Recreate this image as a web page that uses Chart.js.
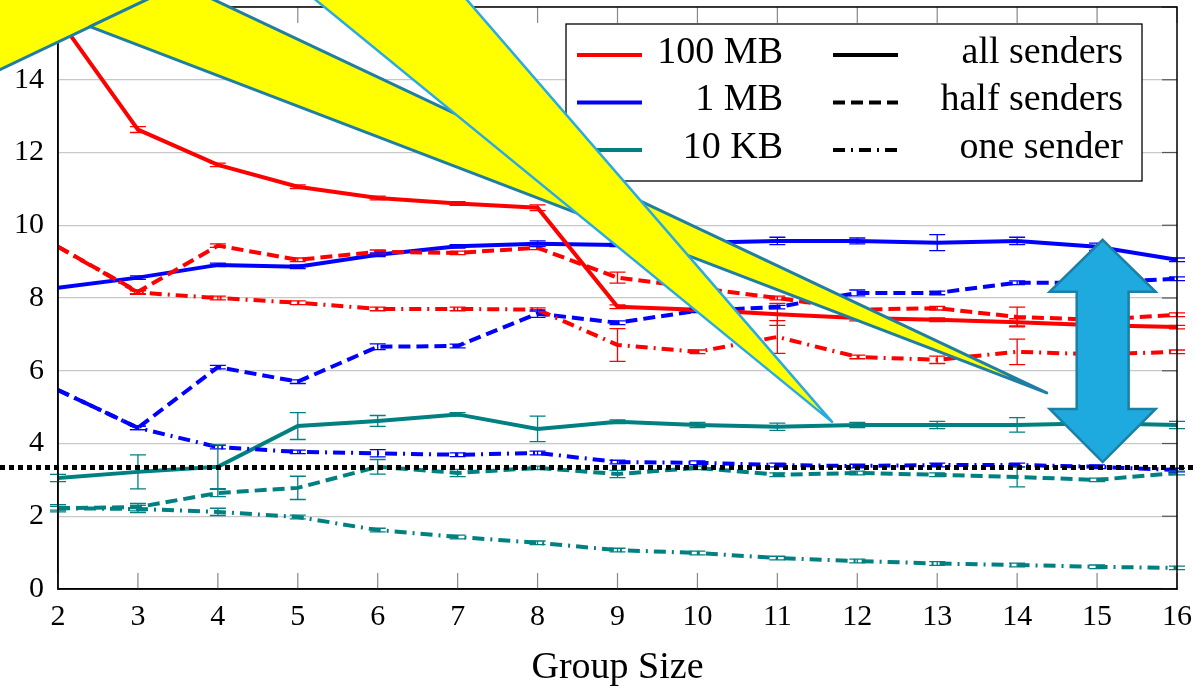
<!DOCTYPE html>
<html>
<head>
<meta charset="utf-8">
<script src="https://cdn.jsdelivr.net/npm/chart.js@4.4.1/dist/chart.umd.min.js"></script>
<style>
  html, body { margin: 0; padding: 0; background: #fff; }
</style>
</head>
<body>
<canvas id="chart" width="1196" height="691"></canvas>
<script>
// group sizes on the x axis
const groupSizes = [2, 3, 4, 5, 6, 7, 8, 9, 10, 11, 12, 13, 14, 15, 16];

// 100 MB
const redAll  = [15.7, 12.63, 11.66, 11.06, 10.75, 10.6, 10.48, 7.76, 7.68, 7.55, 7.45, 7.4, 7.33, 7.25, 7.2];
const redHalf = [9.41, 8.17, 9.44, 9.05, 9.27, 9.24, 9.38, 8.56, 8.28, 8.0, 7.68, 7.72, 7.48, 7.4, 7.54];
const redOne  = [9.41, 8.15, 8.0, 7.87, 7.7, 7.7, 7.68, 6.71, 6.52, 6.93, 6.38, 6.3, 6.52, 6.45, 6.52];
// 1 MB
const blueAll  = [8.28, 8.56, 8.91, 8.86, 9.19, 9.42, 9.49, 9.46, 9.52, 9.57, 9.57, 9.52, 9.57, 9.41, 9.05];
const blueHalf = [5.47, 4.43, 6.1, 5.7, 6.66, 6.68, 7.57, 7.32, 7.65, 7.75, 8.14, 8.14, 8.42, 8.42, 8.53];
const blueOne  = [5.47, 4.43, 3.9, 3.77, 3.73, 3.69, 3.74, 3.49, 3.47, 3.41, 3.38, 3.41, 3.41, 3.36, 3.27];
// 10 KB
const tealAll  = [3.05, 3.22, 3.36, 4.48, 4.62, 4.8, 4.4, 4.6, 4.51, 4.46, 4.51, 4.51, 4.51, 4.56, 4.51];
const tealHalf = [2.22, 2.25, 2.64, 2.78, 3.36, 3.19, 3.33, 3.16, 3.33, 3.14, 3.19, 3.14, 3.08, 3.0, 3.19];
const tealOne  = [2.22, 2.2, 2.12, 1.98, 1.62, 1.43, 1.27, 1.07, 0.99, 0.85, 0.77, 0.7, 0.66, 0.61, 0.58];

// error bar half widths
const redAllErr   = [0, 0.08, 0.05, 0.05, 0.05, 0.05, 0.08, 0.05, 0.05, 0.3, 0.08, 0.05, 0.1, 0.05, 0.05];
const redHalfErr  = [0, 0.05, 0.05, 0.05, 0.05, 0.05, 0.05, 0.15, 0.05, 0.05, 0.08, 0.05, 0.27, 0.05, 0.05];
const redOneErr   = [0, 0.05, 0.05, 0.05, 0.05, 0.05, 0.05, 0.45, 0.05, 0.45, 0.05, 0.1, 0.35, 0.05, 0.05];
const blueAllErr  = [0, 0.05, 0.05, 0.05, 0.05, 0.05, 0.08, 0.05, 0.05, 0.1, 0.08, 0.22, 0.1, 0.1, 0.05];
const blueHalfErr = [0, 0.05, 0.05, 0.05, 0.08, 0.05, 0.1, 0.05, 0.05, 0.05, 0.08, 0.05, 0.05, 0.05, 0.05];
const blueOneErr  = [0, 0.05, 0.05, 0.05, 0.1, 0.05, 0.05, 0.05, 0.05, 0.05, 0.05, 0.05, 0.05, 0.05, 0.05];
const tealAllErr  = [0.1, 0.47, 0.6, 0.37, 0.15, 0.05, 0.35, 0.05, 0.07, 0.1, 0.07, 0.1, 0.2, 0.05, 0.1];
const tealHalfErr = [0.1, 0.1, 0.1, 0.32, 0.2, 0.1, 0.05, 0.1, 0.05, 0.05, 0.05, 0.05, 0.27, 0.05, 0.05];
const tealOneErr  = [0.05, 0.1, 0.1, 0.05, 0.05, 0.05, 0.05, 0.05, 0.05, 0.05, 0.05, 0.05, 0.05, 0.05, 0.05];

const sizeLabels = ['100 MB', '1 MB', '10 KB'];
const senderLabels = ['all senders', 'half senders', 'one sender'];

// overlay annotations, in data units
const thresholdValue = 3.34;
const calloutBody = [[1.01, 14.0], [3.38, 16.48], [1.01, 16.48]];
const calloutTailA = [[2.40, 15.46], [14.37, 5.39], [3.68, 16.48], [3.376, 16.48]];
const calloutTailB = [[5.065, 16.48], [7.004, 16.48], [11.684, 4.594]];
const arrowX = 15.07, arrowTop = 9.6, arrowHeadTop = 8.17, arrowHeadBot = 4.95, arrowBot = 3.49;

const RED = '#ff0000', BLUE = '#0000ff', TEAL = '#008080';
const SOLID = [], DASH = [12, 6], DASHDOT = [12, 6, 2, 6];
const FONT = "'Liberation Serif', 'DejaVu Serif', serif";

function series(label, values, errors, color, dash) {
    return {
        label: label,
        data: values.map((v, i) => ({ x: groupSizes[i], y: v })),
        errors: errors,
        borderColor: color,
        backgroundColor: color,
        borderDash: dash,
        borderWidth: 4,
        pointRadius: 0,
        fill: false,
        tension: 0
    };
}

const datasets = [
    series('100 MB all', redAll, redAllErr, RED, SOLID),
    series('100 MB half', redHalf, redHalfErr, RED, DASH),
    series('100 MB one', redOne, redOneErr, RED, DASHDOT),
    series('1 MB all', blueAll, blueAllErr, BLUE, SOLID),
    series('1 MB half', blueHalf, blueHalfErr, BLUE, DASH),
    series('1 MB one', blueOne, blueOneErr, BLUE, DASHDOT),
    series('10 KB all', tealAll, tealAllErr, TEAL, SOLID),
    series('10 KB half', tealHalf, tealHalfErr, TEAL, DASH),
    series('10 KB one', tealOne, tealOneErr, TEAL, DASHDOT)
];

function poly(ctx, chart, pts) {
    const xs = chart.scales.x, ys = chart.scales.y;
    ctx.beginPath();
    pts.forEach((p, i) => {
        const px = xs.getPixelForValue(p[0]), py = ys.getPixelForValue(p[1]);
        if (i === 0) ctx.moveTo(px, py); else ctx.lineTo(px, py);
    });
    ctx.closePath();
}

const overlayPlugin = {
    id: 'overlay',
    afterDatasetsDraw(chart) {
        const ctx = chart.ctx;
        const xs = chart.scales.x, ys = chart.scales.y;
        const ca = chart.chartArea;

        // error bars
        chart.data.datasets.forEach(ds => {
            ctx.save();
            ctx.strokeStyle = ds.borderColor;
            ctx.lineWidth = 1.3;
            ds.data.forEach((pt, i) => {
                const e = ds.errors[i];
                if (!e) return;
                const px = xs.getPixelForValue(pt.x);
                const top = ys.getPixelForValue(pt.y + e), bot = ys.getPixelForValue(pt.y - e);
                ctx.beginPath();
                ctx.moveTo(px, top); ctx.lineTo(px, bot);
                ctx.moveTo(px - 8, top); ctx.lineTo(px + 8, top);
                ctx.moveTo(px - 8, bot); ctx.lineTo(px + 8, bot);
                ctx.stroke();
            });
            ctx.restore();
        });

        // inner ticks and frame
        ctx.save();
        ctx.strokeStyle = '#888';
        ctx.lineWidth = 1.2;
        groupSizes.forEach(g => {
            const px = xs.getPixelForValue(g);
            ctx.beginPath();
            ctx.moveTo(px, ca.bottom); ctx.lineTo(px, ca.bottom - 16);
            ctx.moveTo(px, ca.top); ctx.lineTo(px, ca.top + 16);
            ctx.stroke();
        });
        ctx.strokeStyle = '#555';
        ys.ticks.forEach(t => {
            const py = ys.getPixelForValue(t.value);
            ctx.beginPath();
            ctx.moveTo(ca.right, py); ctx.lineTo(ca.right - 15, py);
            ctx.stroke();
        });
        ctx.strokeStyle = '#000';
        ctx.lineWidth = 1.5;
        ctx.strokeRect(ca.left, ca.top, ca.right - ca.left, ca.bottom - ca.top);
        ctx.restore();

        // legend box
        ctx.save();
        const bx = ca.right - 611, by = ca.top + 17, bw = 576, bh = 157;
        ctx.fillStyle = '#fff';
        ctx.fillRect(bx, by, bw, bh);
        ctx.strokeStyle = '#000';
        ctx.lineWidth = 1.3;
        ctx.strokeRect(bx, by, bw, bh);
        const colors = [RED, BLUE, TEAL];
        const dashes = [SOLID, DASH, DASHDOT];
        ctx.font = '38px ' + FONT;
        ctx.textAlign = 'right';
        ctx.textBaseline = 'middle';
        for (let i = 0; i < 3; i++) {
            const ry = by + 31 + i * 47.5;
            ctx.lineWidth = 4;
            ctx.setLineDash([]);
            ctx.strokeStyle = colors[i];
            ctx.beginPath(); ctx.moveTo(bx + 11, ry); ctx.lineTo(bx + 76, ry); ctx.stroke();
            ctx.strokeStyle = '#000';
            ctx.setLineDash(dashes[i]);
            ctx.beginPath(); ctx.moveTo(bx + 267, ry); ctx.lineTo(bx + 332, ry); ctx.stroke();
            ctx.setLineDash([]);
            ctx.fillStyle = '#000';
            ctx.fillText(sizeLabels[i], bx + 217, ry - 2);
            ctx.fillText(senderLabels[i], bx + bw - 19, ry - 2);
        }
        ctx.restore();
    },
    afterDraw(chart) {
        const ctx = chart.ctx;
        const ys = chart.scales.y;

        // dotted threshold line across the whole figure
        ctx.save();
        const ty = ys.getPixelForValue(thresholdValue);
        ctx.strokeStyle = '#000';
        ctx.lineWidth = 5;
        ctx.setLineDash([5, 4]);
        ctx.beginPath(); ctx.moveTo(0, ty); ctx.lineTo(chart.width, ty); ctx.stroke();
        ctx.restore();

        // blue double arrow
        ctx.save();
        const hh = 0.663, sh = 0.325;
        poly(ctx, chart, [
            [arrowX, arrowTop], [arrowX + hh, arrowHeadTop], [arrowX + sh, arrowHeadTop],
            [arrowX + sh, arrowHeadBot], [arrowX + hh, arrowHeadBot], [arrowX, arrowBot],
            [arrowX - hh, arrowHeadBot], [arrowX - sh, arrowHeadBot], [arrowX - sh, arrowHeadTop],
            [arrowX - hh, arrowHeadTop]
        ]);
        ctx.fillStyle = '#1eaadf';
        ctx.fill();
        ctx.strokeStyle = '#1b7fa6';
        ctx.lineWidth = 2.5;
        ctx.lineJoin = 'miter';
        ctx.stroke();
        ctx.restore();

        // yellow callouts
        ctx.save();
        ctx.fillStyle = '#ffff00';
        ctx.lineJoin = 'round';
        ctx.lineWidth = 3;
        ctx.strokeStyle = '#1f7fa3';
        poly(ctx, chart, calloutBody); ctx.fill(); ctx.stroke();
        poly(ctx, chart, calloutTailA); ctx.fill(); ctx.stroke();
        ctx.strokeStyle = '#29abe2';
        ctx.lineWidth = 2.5;
        poly(ctx, chart, calloutTailB); ctx.fill(); ctx.stroke();
        ctx.restore();
    }
};

new Chart(document.getElementById('chart').getContext('2d'), {
    type: 'line',
    data: { datasets: datasets },
    plugins: [overlayPlugin],
    options: {
        responsive: false,
        animation: false,
        layout: { padding: { top: 7, right: 19, left: 0, bottom: 0 } },
        plugins: { legend: { display: false }, tooltip: { enabled: false } },
        scales: {
            x: {
                type: 'linear',
                min: 2,
                max: 16,
                ticks: { stepSize: 1, color: '#000', padding: 2, font: { family: FONT, size: 30 } },
                grid: { display: false },
                border: { color: '#000', width: 1.5 },
                title: { display: true, text: 'Group Size', color: '#000', padding: 0, font: { family: FONT, size: 38 } },
                afterFit(scale) { scale.height = 102; scale.paddingLeft = 0; scale.paddingRight = 0; }
            },
            y: {
                min: 0,
                max: 16,
                ticks: { stepSize: 2, color: '#000', padding: 14, font: { family: FONT, size: 30 } },
                grid: { color: '#c8c8c8', lineWidth: 1.3, drawTicks: false },
                border: { color: '#000', width: 1.5 },
                afterFit(scale) { scale.width = 58; scale.paddingTop = 0; scale.paddingBottom = 0; }
            }
        }
    }
});
</script>
</body>
</html>
